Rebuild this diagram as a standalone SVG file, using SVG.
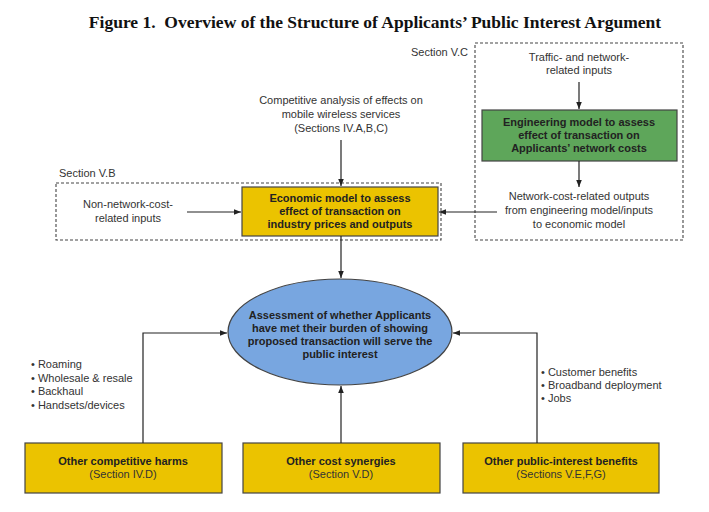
<svg xmlns="http://www.w3.org/2000/svg" width="709" height="512" viewBox="0 0 709 512">
<style>
.t{font-family:"Liberation Sans",Arial,sans-serif;font-size:11px;fill:#333;text-anchor:middle}
.l{font-family:"Liberation Sans",Arial,sans-serif;font-size:11px;fill:#333}
.b{font-family:"Liberation Sans",Arial,sans-serif;font-size:11px;font-weight:bold;fill:#222;text-anchor:middle}
.title{font-family:"Liberation Serif","Times New Roman",serif;font-size:17.5px;font-weight:bold;fill:#111;text-anchor:middle}
.dash{fill:none;stroke:#444;stroke-width:1.1;stroke-dasharray:3,2}
.yel{fill:#ebc300;stroke:#444;stroke-width:1.2}
.grn{fill:#5ea65a;stroke:#444;stroke-width:1.2}
.blu{fill:#78a6e0;stroke:#444;stroke-width:1.2}
.c{fill:none;stroke:#222;stroke-width:1.2;marker-end:url(#ah)}
</style>
<defs>
<marker id="ah" viewBox="0 0 10 10" refX="10" refY="5" markerWidth="7" markerHeight="7" orient="auto" markerUnits="userSpaceOnUse">
<path d="M0,1 L10,5 L0,9 z" fill="#222"/>
</marker>
</defs>
<rect width="709" height="512" fill="#fff"/>
<text class="title" x="375" y="28" xml:space="preserve">Figure 1.  Overview of the Structure of Applicants’ Public Interest Argument</text>

<g id="sectionVC">
<rect class="dash" x="475" y="43" width="208" height="197"/>
<text class="l" x="468" y="56" text-anchor="end">Section V.C</text>
</g>
<g id="sectionVB">
<rect class="dash" x="56" y="183" width="385" height="57"/>
<text class="l" x="59" y="177">Section V.B</text>
</g>

<g id="traffic-inputs">
<text class="t" x="579" y="61">Traffic- and network-</text>
<text class="t" x="579" y="74">related inputs</text>
</g>
<g id="engineering-model">
<rect class="grn" x="482" y="110" width="195" height="51"/>
<text class="b" x="579" y="126">Engineering model to assess</text>
<text class="b" x="579" y="139">effect of transaction on</text>
<text class="b" x="579" y="152">Applicants’ network costs</text>
</g>
<g id="network-outputs">
<text class="t" x="579" y="200">Network-cost-related outputs</text>
<text class="t" x="579" y="214">from engineering model/inputs</text>
<text class="t" x="579" y="228">to economic model</text>
</g>
<g id="competitive-analysis">
<text class="t" x="341" y="104">Competitive analysis of effects on</text>
<text class="t" x="341" y="118">mobile wireless services</text>
<text class="t" x="341" y="132">(Sections IV.A,B,C)</text>
</g>
<g id="non-network-inputs">
<text class="t" x="128" y="208">Non-network-cost-</text>
<text class="t" x="128" y="222">related inputs</text>
</g>
<g id="economic-model">
<rect class="yel" x="242" y="187" width="196" height="49"/>
<text class="b" x="340" y="202">Economic model to assess</text>
<text class="b" x="340" y="215">effect of transaction on</text>
<text class="b" x="340" y="228">industry prices and outputs</text>
</g>
<g id="assessment">
<ellipse class="blu" cx="340" cy="332" rx="112" ry="53"/>
<text class="b" x="340" y="319">Assessment of whether Applicants</text>
<text class="b" x="340" y="332">have met their burden of showing</text>
<text class="b" x="340" y="345">proposed transaction will serve the</text>
<text class="b" x="340" y="358">public interest</text>
</g>
<g id="harms-list">
<text class="l" x="31" y="368">• Roaming</text>
<text class="l" x="31" y="382">• Wholesale &amp; resale</text>
<text class="l" x="31" y="395">• Backhaul</text>
<text class="l" x="31" y="409">• Handsets/devices</text>
</g>
<g id="benefits-list">
<text class="l" x="541" y="376">• Customer benefits</text>
<text class="l" x="541" y="389">• Broadband deployment</text>
<text class="l" x="541" y="402">• Jobs</text>
</g>
<g id="competitive-harms">
<rect class="yel" x="25" y="443" width="197" height="50"/>
<text class="b" x="123" y="465">Other competitive harms</text>
<text class="t" x="123" y="478">(Section IV.D)</text>
</g>
<g id="cost-synergies">
<rect class="yel" x="243" y="443" width="197" height="50"/>
<text class="b" x="341" y="465">Other cost synergies</text>
<text class="t" x="341" y="478">(Section V.D)</text>
</g>
<g id="public-interest-benefits">
<rect class="yel" x="463" y="443" width="196" height="50"/>
<text class="b" x="561" y="465">Other public-interest benefits</text>
<text class="t" x="561" y="478">(Sections V.E,F,G)</text>
</g>

<g id="connectors">
<path class="c" d="M579,82 L579,109"/>
<path class="c" d="M579,161 L579,187"/>
<path class="c" d="M497,212 L439,212"/>
<path class="c" d="M187,212 L241,212"/>
<path class="c" d="M341,140 L341,186"/>
<path class="c" d="M341,236 L341,278"/>
<path class="c" d="M143,443 L143,333 L227,333"/>
<path class="c" d="M341,443 L341,386"/>
<path class="c" d="M537,443 L537,333 L453,333"/>
</g>
</svg>
